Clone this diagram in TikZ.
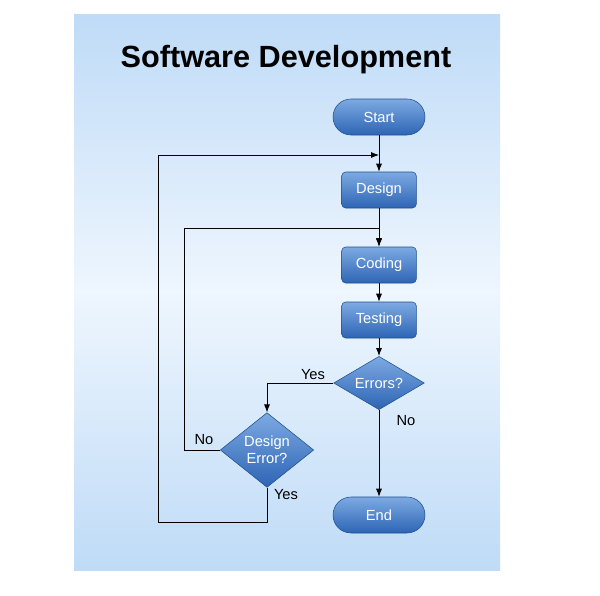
\documentclass[tikz,border=0pt]{standalone}
\usepackage{fontspec}
\setmainfont{Liberation Sans}
\usetikzlibrary{shapes.geometric,arrows.meta}
\definecolor{bgA}{HTML}{BFDBF7}
\definecolor{bgB}{HTML}{EEF6FE}
\definecolor{nTop}{HTML}{7DAAE2}
\definecolor{nBot}{HTML}{2D64B4}
\definecolor{nEdge}{HTML}{1F4E8C}
\begin{document}
\begin{tikzpicture}[x=0.75pt,y=-0.75pt,
  blk/.style={draw=nEdge,top color=nTop,bottom color=nBot,text=white,font=\fontsize{11}{13}\selectfont,inner sep=0pt},
  term/.style={blk,rounded corners=13.5pt,minimum width=69pt,minimum height=27pt},
  proc/.style={blk,rounded corners=3pt,minimum width=56pt,minimum height=27pt},
  dec/.style={blk,diamond,aspect=1.7,align=center},
  arr/.style={-{Latex[length=6pt,width=4.5pt]},black,line width=0.6pt},
  ln/.style={black,line width=0.6pt},
  lbl/.style={font=\fontsize{11}{13}\selectfont}]
\useasboundingbox (0,0) rectangle (600,596);
\fill[white] (0,0) rectangle (600,596);
\shade[top color=bgA,bottom color=bgA,middle color=bgB] (74,14) rectangle (500,570);
\node[font=\bfseries\fontsize{23}{27}\selectfont] (title) at (286,60) {Software Development};
\node[term] (start) at (379,117) {Start};
\node[proc] (design) at (379,190) {Design};
\node[proc] (coding) at (379,265) {Coding};
\node[proc] (testing) at (379,320) {Testing};
\node[dec,minimum width=68pt,minimum height=40pt] (err) at (379,383) {Errors?};
\node[dec,minimum width=68pt,minimum height=56pt] (derr) at (267,450) {Design\\Error?};
\node[term] (end) at (379,515) {End};
\coordinate (j1) at (379,155);
\coordinate (j2) at (379,228);
\draw[arr] (start) -- (design);
\draw[arr] (design) -- (coding);
\draw[arr] (coding) -- (testing);
\draw[arr] (testing) -- (err);
\draw[arr] (err) -- (end);
\draw[arr] (err.west) -| (derr.north);
\draw[arr] (derr.south) -- (267,522) -- (158,522) -- (158,155) -- (j1);
\draw[arr] (derr.west) -- (184,450) -- (184,228) -- (j2) -- (379,246);
\node[lbl] (l1) at (313,375) {Yes};
\node[lbl] (l2) at (406,421) {No};
\node[lbl] (l3) at (204,440) {No};
\node[lbl] (l4) at (286,495) {Yes};
\end{tikzpicture}
\end{document}
